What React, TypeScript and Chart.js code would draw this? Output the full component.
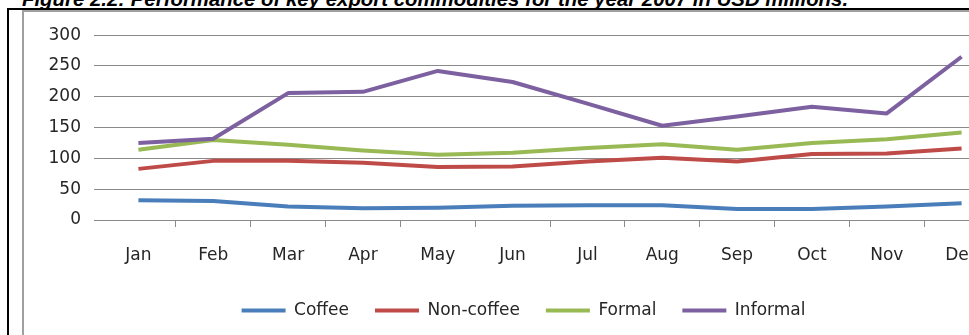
import React, { useEffect, useRef } from "react";
import { Chart, registerables } from "chart.js";

Chart.register(...registerables);

const months = ["Jan", "Feb", "Mar", "Apr", "May", "Jun", "Jul", "Aug", "Sep", "Oct", "Nov", "Dec"];
const coffee = [32, 31, 22, 19, 20, 23, 24, 24, 18, 18, 22, 27];
const nonCoffee = [83, 96, 96, 93, 86, 87, 95, 101, 95, 107, 108, 116];
const formal = [114, 130, 122, 113, 106, 109, 117, 123, 114, 125, 131, 142];
const informal = [125, 132, 206, 208, 242, 224, 189, 153, 168, 184, 173, 265];
const seriesNames = ["Coffee", "Non-coffee", "Formal", "Informal"];
const seriesColors = ["#4a7ebb", "#be4b48", "#98b954", "#7d60a0"];
const yMin = 0;
const yMax = 300;
const yStep = 50;
const titleText = "Figure 2.2: Performance of key export commodities for the year 2007 in USD millions.";

const GRID = "#8a8a8a";
const TEXT = "#262626";
const FONT = "'DejaVu Sans', sans-serif";

export default function App() {
  const ref = useRef<HTMLCanvasElement | null>(null);

  useEffect(() => {
    if (!ref.current) return;
    const values = [coffee, nonCoffee, formal, informal];
    const chart = new Chart(ref.current, {
      type: "line",
      data: {
        labels: months,
        datasets: values.map((v, i) => ({
          label: seriesNames[i],
          data: v,
          borderColor: seriesColors[i],
          backgroundColor: seriesColors[i],
          borderWidth: 4,
          pointRadius: 0,
          pointHoverRadius: 0,
          tension: 0,
          fill: false,
          borderJoinStyle: "round" as const,
          order: 4 - i,
        })),
      },
      options: {
        responsive: false,
        animation: false,
        devicePixelRatio: 1,
        layout: { padding: { left: 24, right: 29, top: 23, bottom: 0 } },
        font: { family: FONT, size: 17 },
        plugins: {
          tooltip: { enabled: false },
          legend: {
            position: "bottom",
            labels: {
              usePointStyle: true,
              pointStyle: "line",
              pointStyleWidth: 44,
              padding: 26,
              color: TEXT,
              font: { family: FONT, size: 17 },
              sort: (a: any, b: any) => a.datasetIndex - b.datasetIndex,
            },
          },
        },
        scales: {
          x: {
            offset: true,
            grid: {
              offset: true,
              drawOnChartArea: false,
              drawTicks: true,
              tickLength: 7,
              color: (c: any) => (c.index === 0 ? "rgba(0,0,0,0)" : GRID),
            },
            border: { display: true, color: GRID, width: 1 },
            ticks: {
              padding: 18,
              maxRotation: 0,
              autoSkip: false,
              color: TEXT,
              font: { family: FONT, size: 17 },
            },
            afterFit: (s: any) => {
              s.height = 56;
            },
          },
          y: {
            min: yMin,
            max: yMax,
            ticks: {
              stepSize: yStep,
              padding: 13,
              color: TEXT,
              font: { family: FONT, size: 17 },
            },
            grid: { color: GRID, lineWidth: 1, drawTicks: true, tickLength: 7 },
            border: { display: false },
            afterFit: (s: any) => {
              s.width = 53;
            },
          },
        },
      },
    });
    return () => chart.destroy();
  }, []);

  return (
    <div style={{ position: "absolute", left: 0, top: 0, width: 969, height: 335, overflow: "hidden", background: "#fff" }}>
      <div
        style={{
          position: "absolute",
          left: 22,
          top: -11,
          font: "italic bold 20.4px 'Liberation Sans', Arial, sans-serif",
          lineHeight: "20px",
          whiteSpace: "nowrap",
          color: "#000",
        }}
      >
        {titleText}
      </div>
      <div
        style={{
          position: "absolute",
          left: 7,
          top: 8,
          width: 2000,
          height: 1000,
          borderLeft: "2px solid #000",
          borderTop: "2px solid #000",
        }}
      />
      <div
        style={{
          position: "absolute",
          left: 22,
          top: 10,
          width: 2000,
          height: 1000,
          borderLeft: "2px solid #a0a0a0",
          borderTop: "2px solid #a0a0a0",
        }}
      />
      <canvas ref={ref} width={1004} height={317} style={{ position: "absolute", left: 24, top: 12, width: 1004, height: 317 }} />
    </div>
  );
}
